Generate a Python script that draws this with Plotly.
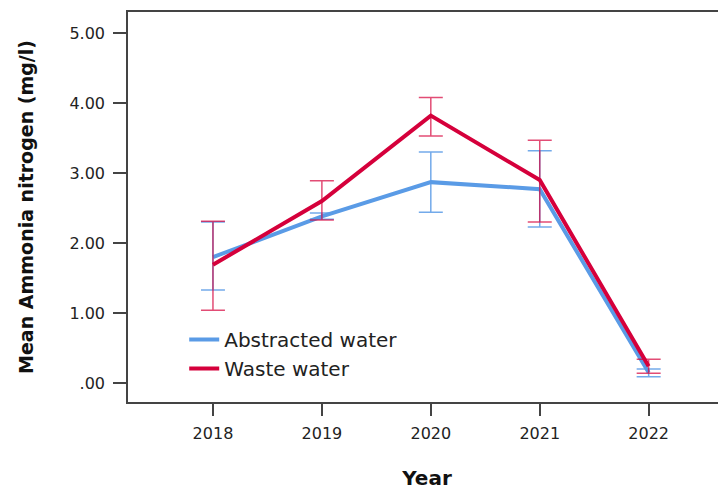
import plotly.graph_objects as go

years = [2018, 2019, 2020, 2021, 2022]

abstracted_mean = [1.80, 2.38, 2.87, 2.77, 0.15]
abstracted_upper = [2.30, 2.43, 3.30, 3.32, 0.20]
abstracted_lower = [1.33, 2.34, 2.44, 2.23, 0.09]

waste_mean = [1.69, 2.60, 3.82, 2.90, 0.24]
waste_upper = [2.31, 2.89, 4.08, 3.47, 0.34]
waste_lower = [1.04, 2.33, 3.53, 2.30, 0.14]

y_tickvals = [0, 1, 2, 3, 4, 5]
y_ticktext = [".00", "1.00", "2.00", "3.00", "4.00", "5.00"]

BLUE = "#5a9be6"
RED = "#d5003b"
FONT = "DejaVu Sans"

def errs(mean, upper, lower):
    return ([u - m for u, m in zip(upper, mean)], [m - l for m, l in zip(mean, lower)])

fig = go.Figure()
for name, mean, up, lo, col, ecol in [
    ("Abstracted water", abstracted_mean, abstracted_upper, abstracted_lower, BLUE, "rgba(90,155,230,0.85)"),
    ("Waste water", waste_mean, waste_upper, waste_lower, RED, "rgba(213,0,59,0.7)"),
]:
    plus, minus = errs(mean, up, lo)
    fig.add_trace(go.Scatter(
        x=years, y=mean, name=name, mode="lines",
        line=dict(color=col, width=4),
        error_y=dict(type="data", array=plus, arrayminus=minus, symmetric=False,
                     color=ecol, thickness=1.5, width=12),
    ))

# page body has an 8px default margin; size the figure to fill the rest of the 726x490 window
fig.update_layout(
    width=718, height=482,
    margin=dict(l=120, r=0, t=4, b=88),
    paper_bgcolor="white", plot_bgcolor="white",
    font=dict(family=FONT, color="#222222", size=14),
    showlegend=True,
    legend=dict(x=0.094, y=0.21, xanchor="left", yanchor="top",
                font=dict(size=20, family=FONT, color="#222222"),
                bgcolor="rgba(0,0,0,0)", tracegroupgap=0),
    xaxis=dict(
        range=[2017.22, 2022.71], tickvals=years, ticktext=[str(y) for y in years],
        automargin=False,
        showgrid=False, zeroline=False, showline=True, linecolor="#444444", linewidth=1.5,
        mirror=True, ticks="outside", ticklen=12, tickcolor="#444444", tickwidth=1.5,
        ticklabelstandoff=4,
        tickfont=dict(size=16, family=FONT, color="#222222"),
        title=dict(text="<b>Year</b>", font=dict(size=20, family=FONT, color="#111111"), standoff=36),
    ),
    yaxis=dict(
        range=[-0.27, 5.3], tickvals=y_tickvals, ticktext=y_ticktext,
        automargin=False,
        showgrid=False, zeroline=False, showline=True, linecolor="#444444", linewidth=1.5,
        ticks="outside", ticklen=13, tickcolor="#444444", tickwidth=1.5,
        ticklabelstandoff=5,
        tickfont=dict(size=16, family=FONT, color="#222222"),
        title=dict(text="<b>Mean Ammonia nitrogen (mg/l)</b>", font=dict(size=19, family=FONT, color="#111111"), standoff=31),
    ),
)

fig.write_html("out.html")
